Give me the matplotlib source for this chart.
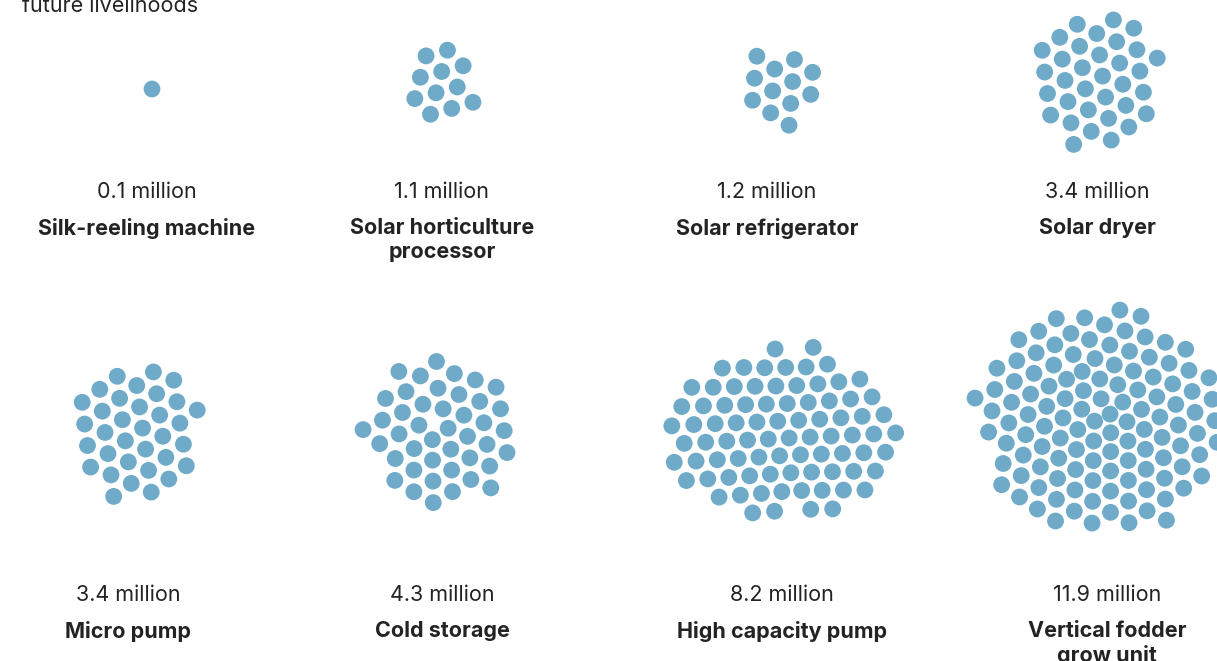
import numpy as np
import matplotlib
matplotlib.use("Agg")
import matplotlib.pyplot as plt
from matplotlib.collections import PatchCollection
from matplotlib.patches import Circle

plt.rcParams["font.family"] = ["Inter", "DejaVu Sans"]

# Data: installed capacity (million units) per technology; one dot = 0.1 million
categories = [
    "Silk-reeling machine", "Solar horticulture\nprocessor", "Solar refrigerator", "Solar dryer",
    "Micro pump", "Cold storage", "High capacity pump", "Vertical fodder\ngrow unit",
]
values = [0.1, 1.1, 1.2, 3.4, 3.4, 4.3, 8.2, 11.9]
dots_per_million = 10

# Layout (pixel canvas)
W, H = 1217, 661
cluster_x = [152, 442, 781, 1097, 137, 441, 782, 1100]
cluster_y = [89, 84, 87, 80, 432, 432, 434, 420]
label_x = [147, 442, 767, 1097, 128, 442, 782, 1107]
value_y = [192, 192, 192, 192, 595, 595, 595, 595]
stretch = [1.0, 0.85, 1.0, 1.0, 1.0, 1.0, 1.4, 1.1]

DOT_R = 8.4
GAP = 22.3
DOT_COLOR = "#6fabc8"
TEXT_COLOR = "#232323"


def pack(n, spacing, aspect):
    """Sunflower seed layout relaxed by a simple collision / gravity simulation."""
    if n == 1:
        return np.zeros((1, 2))
    k = np.arange(n)
    golden = np.pi * (3 - np.sqrt(5))
    r = 0.55 * spacing * np.sqrt(k + 0.5)
    th = k * golden
    pts = np.c_[r * np.cos(th) * np.sqrt(aspect), r * np.sin(th) / np.sqrt(aspect)]
    for _ in range(400):
        diff = pts[:, None, :] - pts[None, :, :]
        dist = np.hypot(diff[..., 0], diff[..., 1])
        np.fill_diagonal(dist, np.inf)
        overlap = np.clip(spacing - dist, 0, None)
        push = (diff / dist[..., None]) * (overlap[..., None] * 0.5)
        pts += push.sum(axis=1) * 0.6
        pts[:, 0] -= pts[:, 0] * 0.004 / aspect
        pts[:, 1] -= pts[:, 1] * 0.004 * aspect
    pts -= pts.mean(axis=0)
    return pts


fig = plt.figure(figsize=(W / 100, H / 100), dpi=100)
ax = fig.add_axes([0, 0, 1, 1])
ax.set_xlim(0, W)
ax.set_ylim(H, 0)
ax.set_aspect("equal")
ax.axis("off")

for i, (name, val) in enumerate(zip(categories, values)):
    n = int(round(val * dots_per_million))
    pts = pack(n, GAP, stretch[i])
    circles = [Circle((cluster_x[i] + px, cluster_y[i] + py), DOT_R) for px, py in pts]
    ax.add_collection(PatchCollection(circles, facecolor=DOT_COLOR, edgecolor="none"))
    ax.text(label_x[i], value_y[i], f"{val} million", ha="center", va="center",
            fontsize=15.5, color=TEXT_COLOR)
    ax.text(label_x[i], value_y[i] + 26, name, ha="center", va="top",
            fontsize=15.5, fontweight="bold", color=TEXT_COLOR, linespacing=1.22)

ax.text(22, 12, "future livelihoods", ha="left", va="baseline", fontsize=15.5, color=TEXT_COLOR)

fig.savefig("out.png", dpi=100, facecolor="white")
